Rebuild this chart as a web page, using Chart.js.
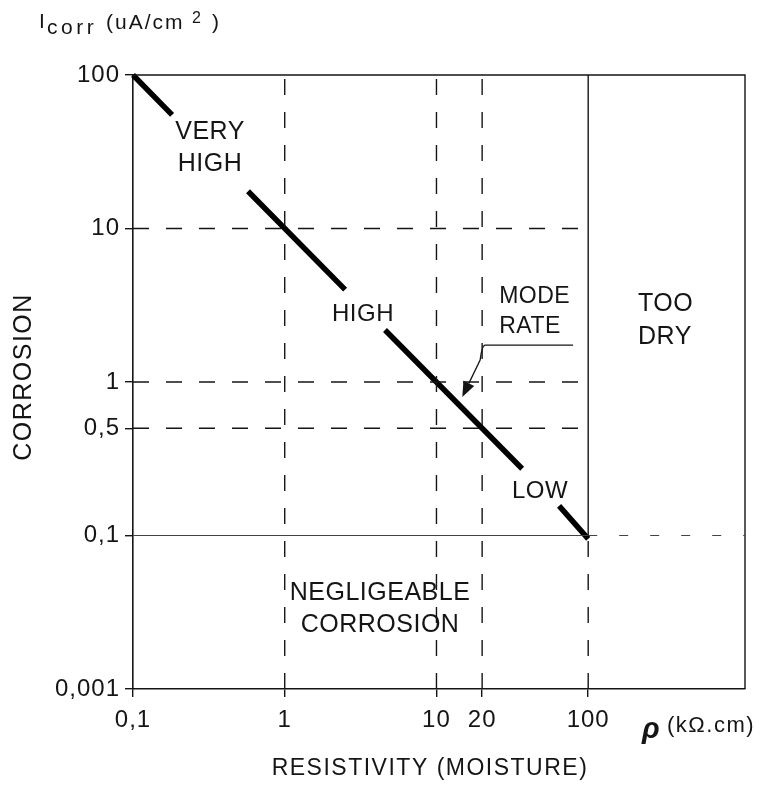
<!DOCTYPE html>
<html lang="en">
<head>
  <meta charset="UTF-8">
  <title>Corrosion rate vs resistivity</title>
  <style>
    html, body { margin: 0; padding: 0; background: #fff; }
    #chart-canvas { display: block; }
  </style>
</head>
<body>
  <canvas id="chart-canvas" width="762" height="788"></canvas>

  <script src="https://cdn.jsdelivr.net/npm/chart.js@4.4.8/dist/chart.umd.min.js"></script>
  <script>
    // rate line: resistivity (kOhm.cm) against corrosion current (uA/cm2), null breaks the line for a label
    const rhoLine   = [0.1, 0.181, null, 0.573, 2.5, null, 4.58, 36.7, null, 64.3, 100];
    const icorrLine = [100, 55, null, 17.5, 4.0, null, 2.18, 0.272, null, 0.156, 0.095];

    const xTicks = [0.1, 1, 10, 20, 100];
    const xTickLabels = ['0,1', '1', '10', '20', '100'];
    const yTicks = [0.01, 0.1, 0.5, 1, 10, 100];
    const yTickLabels = ['0,001', '0,1', '0,5', '1', '10', '100'];

    const xMin = 0.1, xMax = 1080;
    const yMin = 0.01, yMax = 100;

    // zone boundaries
    const dashedRho = [1, 10, 20];
    const dashedIcorr = [10, 1, 0.5];
    const dryLimit = 100;
    const lowLimit = 0.1;

    // zone names and where they sit
    const zoneNames = [['VERY', 'HIGH'], ['HIGH'], ['MODE', 'RATE'], ['TOO', 'DRY'], ['LOW'], ['NEGLIGEABLE', 'CORROSION']];
    const zoneRho = [0.322, 3.28, 25.9, 213, 48.2, 4.25];
    const zoneIcorr = [33.5, 2.77, 2.88, 2.52, 0.194, 0.0332];

    // pointer from MODE RATE to the line
    const arrowRho = [79.5, 20.9, 19.4, 14.8];
    const arrowIcorr = [1.74, 1.74, 1.39, 0.80];

    const ink = '#151515';
    const family = '"Liberation Sans", Arial, sans-serif';
    const zoneAlign = ['center', 'center', 'left', 'left', 'center', 'center'];
    const zoneSize = [25, 24, 23, 25, 24, 25];
    const dash = [16, 17];

    function seg(points, extra) {
      return Object.assign({
        data: points,
        showLine: true,
        pointRadius: 0,
        borderColor: ink,
        borderWidth: 1.4,
        fill: false,
        clip: false
      }, extra);
    }

    const datasets = [];
    dashedRho.forEach(r => datasets.push(seg([{ x: r, y: yMin }, { x: r, y: yMax }], { borderDash: dash })));
    dashedIcorr.forEach(v => datasets.push(seg([{ x: xMin, y: v }, { x: dryLimit, y: v }], { borderDash: dash })));
    datasets.push(seg([{ x: dryLimit, y: lowLimit }, { x: dryLimit, y: yMax }], {}));
    datasets.push(seg([{ x: dryLimit, y: yMin }, { x: dryLimit, y: lowLimit }], { borderDash: dash }));
    datasets.push(seg([{ x: xMin, y: lowLimit }, { x: dryLimit, y: lowLimit }], { borderColor: '#444', borderWidth: 1.2 }));
    datasets.push(seg([{ x: dryLimit, y: lowLimit }, { x: xMax, y: lowLimit }], { borderColor: '#444', borderWidth: 1.2, borderDash: [9, 22] }));
    // top and right edges of the frame
    datasets.push(seg([{ x: xMin, y: yMax }, { x: xMax, y: yMax }, { x: xMax, y: yMin }], {}));
    // the rate line itself
    datasets.push(seg(rhoLine.map((r, i) => ({ x: r, y: icorrLine[i] })), { borderWidth: 5.5, borderColor: '#000', spanGaps: false }));

    const labelsPlugin = {
      id: 'labels',
      beforeDraw(chart) {
        chart.ctx.letterSpacing = '1px';
      },
      afterDraw(chart) {
        const ctx = chart.ctx;
        const xs = chart.scales.x, ys = chart.scales.y;
        ctx.save();
        ctx.fillStyle = ink;
        ctx.strokeStyle = ink;

        // zone names
        ctx.letterSpacing = '0.5px';
        ctx.textBaseline = 'middle';
        zoneNames.forEach((lines, i) => {
          ctx.font = zoneSize[i] + 'px ' + family;
          ctx.textAlign = zoneAlign[i];
          const px = xs.getPixelForValue(zoneRho[i]);
          const py = ys.getPixelForValue(zoneIcorr[i]);
          const lh = zoneSize[i] * 1.3;
          lines.forEach((t, k) => ctx.fillText(t, px, py + (k - (lines.length - 1) / 2) * lh));
        });

        // pointer arrow
        const p = arrowRho.map((r, i) => [xs.getPixelForValue(r), ys.getPixelForValue(arrowIcorr[i])]);
        const tip = p[3], from = p[2];
        const dx = tip[0] - from[0], dy = tip[1] - from[1];
        const len = Math.hypot(dx, dy), ux = dx / len, uy = dy / len;
        const head = 15, half = 6;
        const bx = tip[0] - ux * head, by = tip[1] - uy * head;
        ctx.lineWidth = 1.3;
        ctx.beginPath();
        ctx.moveTo(p[0][0], p[0][1]);
        ctx.lineTo(p[1][0], p[1][1]);
        ctx.quadraticCurveTo(p[1][0] - 3, p[1][1], p[2][0], p[2][1]);
        ctx.lineTo(bx, by);
        ctx.stroke();
        ctx.beginPath();
        ctx.moveTo(tip[0], tip[1]);
        ctx.lineTo(bx - uy * half, by + ux * half);
        ctx.lineTo(bx + uy * half, by - ux * half);
        ctx.closePath();
        ctx.fill();

        // y axis title with subscript and superscript
        ctx.textAlign = 'left';
        ctx.textBaseline = 'alphabetic';
        ctx.font = '21px ' + family;
        ctx.letterSpacing = '2px';
        ctx.fillText('I', 39, 28);
        ctx.letterSpacing = '3.5px';
        ctx.fillText('corr', 47, 34);
        ctx.letterSpacing = '2px';
        ctx.fillText('(uA/cm', 106, 29);
        ctx.fillText(')', 212, 29);
        ctx.font = '16px ' + family;
        ctx.fillText('2', 192, 23);

        // rotated CORROSION title
        ctx.save();
        ctx.translate(24, 377);
        ctx.rotate(-Math.PI / 2);
        ctx.font = '25px ' + family;
        ctx.letterSpacing = '1.5px';
        ctx.textAlign = 'center';
        ctx.textBaseline = 'middle';
        ctx.fillText('CORROSION', 0, 0);
        ctx.restore();

        // x axis title
        ctx.font = '23px ' + family;
        ctx.letterSpacing = '1.5px';
        ctx.textAlign = 'center';
        ctx.textBaseline = 'middle';
        ctx.fillText('RESISTIVITY (MOISTURE)', 430, 769);

        // unit next to the last x tick
        ctx.textAlign = 'left';
        ctx.textBaseline = 'alphabetic';
        ctx.letterSpacing = '0px';
        ctx.font = 'italic bold 29px ' + family;
        ctx.fillText('\u03C1', 642, 738);
        ctx.font = '22px ' + family;
        ctx.letterSpacing = '1.5px';
        ctx.fillText('(k\u03A9.cm)', 667, 732);
        ctx.restore();
      }
    };

    const tickFont = { family: family, size: 24 };

    new Chart(document.getElementById('chart-canvas').getContext('2d'), {
      type: 'scatter',
      data: { datasets: datasets },
      plugins: [labelsPlugin],
      options: {
        responsive: false,
        animation: false,
        events: [],
        layout: { padding: { left: 0, right: 17, top: 75, bottom: 39 } },
        plugins: { legend: { display: false }, tooltip: { enabled: false } },
        scales: {
          x: {
            type: 'logarithmic',
            min: xMin,
            max: xMax,
            afterBuildTicks: s => { s.ticks = xTicks.map(v => ({ value: v })); },
            afterFit: s => { s.height = 60; },
            ticks: {
              callback: (v, i) => xTickLabels[i],
              color: ink,
              font: tickFont,
              padding: 9,
              autoSkip: false,
              maxRotation: 0
            },
            grid: { drawOnChartArea: false, tickLength: 8, color: ink, lineWidth: 1.4 },
            border: { color: ink, width: 1.6 }
          },
          y: {
            type: 'logarithmic',
            min: yMin,
            max: yMax,
            afterBuildTicks: s => { s.ticks = yTicks.map(v => ({ value: v })); },
            afterFit: s => { s.width = 133; },
            ticks: {
              callback: (v, i) => yTickLabels[i],
              color: ink,
              font: tickFont,
              padding: 5,
              autoSkip: false
            },
            grid: { drawOnChartArea: false, tickLength: 8, color: ink, lineWidth: 1.4 },
            border: { color: ink, width: 1.6 }
          }
        }
      }
    });
  </script>
</body>
</html>
